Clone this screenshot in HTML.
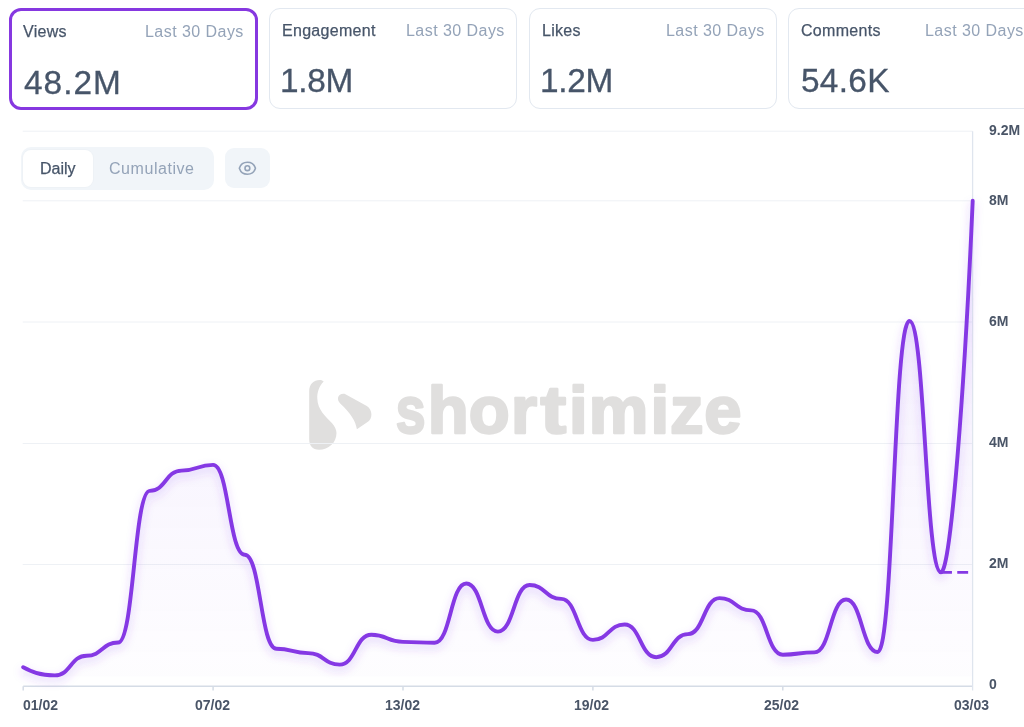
<!DOCTYPE html>
<html><head><meta charset="utf-8">
<style>
html,body{margin:0;padding:0;background:#fff;}
body{width:1024px;height:727px;overflow:hidden;position:relative;font-family:"Liberation Sans",sans-serif;}
.lbl,.sub,.val,.ttxt{will-change:transform;}
.card{position:absolute;top:8px;height:101px;width:248.5px;box-sizing:border-box;border:1px solid #e2e8f0;border-radius:11px;background:#fff;}
.card.sel{border:3px solid #8638e0;}
.lbl{position:absolute;left:12px;top:13.4px;font-size:16px;line-height:18px;color:#475569;letter-spacing:0.3px;-webkit-text-stroke:0.25px #475569;white-space:nowrap;}
.sub{position:absolute;right:11.5px;top:13.4px;font-size:16px;line-height:18px;color:#94a3b8;letter-spacing:0.45px;white-space:nowrap;}
.val{position:absolute;left:12px;top:53.4px;font-size:33.4px;line-height:38px;color:#475569;letter-spacing:0.6px;-webkit-text-stroke:0.3px #475569;white-space:nowrap;}
.toggle{position:absolute;left:21px;top:147px;width:192.5px;height:42.5px;background:#f1f5f9;border-radius:10px;}
.daily{position:absolute;left:1.6px;top:3px;width:70.4px;height:37px;background:#fff;border-radius:8px;box-shadow:0 0 0 1px #eef2f6;}
.ttxt{position:absolute;font-size:16px;top:12.8px;white-space:nowrap;}
.eye{position:absolute;left:224.5px;top:148.4px;width:45.5px;height:40px;background:#f1f5f9;border-radius:9px;}
.ax{position:absolute;font-size:14px;font-weight:bold;color:#4a5567;white-space:nowrap;will-change:transform;}
</style></head><body>
<div class="card sel" style="left:9.2px;top:7.8px;height:101.9px;width:248.8px;border-radius:12px">
  <div class="lbl" style="left:11.2px;top:12.6px">Views</div>
  <div class="sub" style="right:10.8px;top:12.6px">Last 30 Days</div>
  <div class="val" style="left:12.2px;top:53.5px;letter-spacing:1.0px">48.2M</div>
</div>
<div class="card" style="left:268.7px;">
  <div class="lbl">Engagement</div>
  <div class="sub">Last 30 Days</div>
  <div class="val" style="left:10.6px;letter-spacing:-0.3px">1.8M</div>
</div>
<div class="card" style="left:528.5px;">
  <div class="lbl">Likes</div>
  <div class="sub">Last 30 Days</div>
  <div class="val" style="left:10.6px;letter-spacing:-0.3px">1.2M</div>
</div>
<div class="card" style="left:788px;">
  <div class="lbl">Comments</div>
  <div class="sub">Last 30 Days</div>
  <div class="val" style="left:11.8px;letter-spacing:0.3px">54.6K</div>
</div>

<svg width="1024" height="727" style="position:absolute;left:0;top:0">
  <defs>
    <linearGradient id="ag" x1="0" y1="200" x2="0" y2="686" gradientUnits="userSpaceOnUse">
      <stop offset="0.05" stop-color="#7c3aed" stop-opacity="0.095"/>
      <stop offset="0.97" stop-color="#7c3aed" stop-opacity="0.01"/>
    </linearGradient>
    <filter id="sh" x="-5%" y="-20%" width="110%" height="140%">
      <feGaussianBlur in="SourceAlpha" stdDeviation="4.5"/>
      <feOffset dx="0" dy="4" result="b"/>
      <feFlood flood-color="#7c3aed" flood-opacity="0.26"/>
      <feComposite in2="b" operator="in"/>
      <feMerge><feMergeNode/><feMergeNode in="SourceGraphic"/></feMerge>
    </filter>
  </defs>
  <!-- watermark -->
  <g fill="#e0dfde">
    <path d="M323.7,381.4C319.1,386.1 317.0,392.3 317.3,398.5C317.5,409.6 325.9,417.0 332.1,423.2C334.6,426.3 336.5,429.4 336.5,433.1C336.5,443.0 328.4,449.8 319.1,449.8C312.3,449.8 309.2,445.5 309.2,439.3L309.2,391.0C309.2,384.2 313.6,379.9 319.8,379.9C321.6,379.9 322.8,380.5 323.7,381.4ZM344.5,393.8L366.8,405.9C372.4,409.0 373.6,418.9 366.8,422.6L356.9,429.2C355.6,420.7 350.7,413.3 340.2,403.4C335.8,399.1 338.3,392.9 344.5,393.8Z"/>
    <g font-family="Liberation Sans" font-weight="bold" font-size="67" stroke="#e0dfde" stroke-width="2.4" stroke-linejoin="round"><text x="392.00" y="433.4" transform="translate(410.50 0) scale(0.800 1) translate(-410.50 0)">s</text><text x="427.70" y="433.4">h</text><text x="468.80" y="433.4">o</text><text x="510.90" y="433.4">r</text><text x="542.25" y="433.4" transform="translate(553.25 0) scale(1.150 1) translate(-553.25 0)">t</text><text x="569.00" y="433.4">i</text><text x="588.70" y="433.4">m</text><text x="650.40" y="433.4">i</text><text x="669.90" y="433.4">z</text><text x="704.30" y="433.4">e</text></g>
  </g>
  <g stroke="#eef1f5" stroke-width="1">
    <line x1="22.7" y1="131.2" x2="972.6" y2="131.2"/>
    <line x1="22.7" y1="200.8" x2="972.6" y2="200.8"/>
    <line x1="22.7" y1="322" x2="972.6" y2="322"/>
    <line x1="22.7" y1="443.5" x2="972.6" y2="443.5"/>
    <line x1="22.7" y1="564.5" x2="972.6" y2="564.5"/>
  </g>
  <path d="M23.20,667.20C31.11,671.30 39.02,675.40 54.85,675.40C70.67,675.40 70.67,655.70 86.50,655.70C102.33,655.70 102.33,642.50 118.15,642.50C133.98,642.50 133.98,490.90 149.80,490.90C165.62,490.90 165.62,470.60 181.45,470.60C197.27,470.60 197.27,464.90 213.10,464.90C228.93,464.90 228.93,554.80 244.75,554.80C260.57,554.80 260.57,648.80 276.40,648.80C292.23,648.80 292.23,653.10 308.05,653.10C323.88,653.10 323.88,664.60 339.70,664.60C355.52,664.60 355.52,634.70 371.35,634.70C387.18,634.70 387.18,641.90 403.00,641.90C418.82,641.90 418.82,642.80 434.65,642.80C450.48,642.80 450.48,583.50 466.30,583.50C482.12,583.50 482.12,631.60 497.95,631.60C513.77,631.60 513.77,585.00 529.60,585.00C545.42,585.00 545.42,598.90 561.25,598.90C577.08,598.90 577.08,639.90 592.90,639.90C608.72,639.90 608.72,624.50 624.55,624.50C640.38,624.50 640.38,657.20 656.20,657.20C672.03,657.20 672.03,634.10 687.85,634.10C703.67,634.10 703.67,598.10 719.50,598.10C735.33,598.10 735.33,610.40 751.15,610.40C766.97,610.40 766.97,654.70 782.80,654.70C798.62,654.70 798.62,652.40 814.45,652.40C830.28,652.40 830.28,599.50 846.10,599.50C861.92,599.50 861.92,652.00 877.75,652.00C893.58,652.00 893.58,321.00 909.40,321.00C925.22,321.00 925.22,572.30 941.05,572.30C950.75,572.30 964.70,386.70 972.70,200.80L972.7,676.3L23.2,676.3Z" fill="url(#ag)"/>
  <g stroke="#d5dce6" stroke-width="1.5" fill="none">
    <line x1="23.2" y1="686.2" x2="972.6" y2="686.2"/>
    <line x1="23.2" y1="686.3" x2="23.2" y2="690.4"/>
    <line x1="213.1" y1="686.3" x2="213.1" y2="690.4"/>
    <line x1="403" y1="686.3" x2="403" y2="690.4"/>
    <line x1="592.9" y1="686.3" x2="592.9" y2="690.4"/>
    <line x1="782.8" y1="686.3" x2="782.8" y2="690.4"/>
  </g>
  <line x1="972.6" y1="131.2" x2="972.6" y2="690.4" stroke="#dfe5ee" stroke-width="1.3"/>
  <path d="M23.20,667.20C31.11,671.30 39.02,675.40 54.85,675.40C70.67,675.40 70.67,655.70 86.50,655.70C102.33,655.70 102.33,642.50 118.15,642.50C133.98,642.50 133.98,490.90 149.80,490.90C165.62,490.90 165.62,470.60 181.45,470.60C197.27,470.60 197.27,464.90 213.10,464.90C228.93,464.90 228.93,554.80 244.75,554.80C260.57,554.80 260.57,648.80 276.40,648.80C292.23,648.80 292.23,653.10 308.05,653.10C323.88,653.10 323.88,664.60 339.70,664.60C355.52,664.60 355.52,634.70 371.35,634.70C387.18,634.70 387.18,641.90 403.00,641.90C418.82,641.90 418.82,642.80 434.65,642.80C450.48,642.80 450.48,583.50 466.30,583.50C482.12,583.50 482.12,631.60 497.95,631.60C513.77,631.60 513.77,585.00 529.60,585.00C545.42,585.00 545.42,598.90 561.25,598.90C577.08,598.90 577.08,639.90 592.90,639.90C608.72,639.90 608.72,624.50 624.55,624.50C640.38,624.50 640.38,657.20 656.20,657.20C672.03,657.20 672.03,634.10 687.85,634.10C703.67,634.10 703.67,598.10 719.50,598.10C735.33,598.10 735.33,610.40 751.15,610.40C766.97,610.40 766.97,654.70 782.80,654.70C798.62,654.70 798.62,652.40 814.45,652.40C830.28,652.40 830.28,599.50 846.10,599.50C861.92,599.50 861.92,652.00 877.75,652.00C893.58,652.00 893.58,321.00 909.40,321.00C925.22,321.00 925.22,572.30 941.05,572.30C950.75,572.30 964.70,386.70 972.70,200.80" fill="none" stroke="#8539e4" stroke-width="3.9" stroke-linecap="round" stroke-linejoin="round" filter="url(#sh)"/>
  <line x1="941.05" y1="572.3" x2="972.7" y2="572.3" stroke="#8539e4" stroke-width="2.8" stroke-dasharray="10.9 5.3"/>
</svg>

<div class="toggle">
  <div class="daily"></div>
  <div class="ttxt" style="left:18.5px;color:#475569;-webkit-text-stroke:0.25px #475569">Daily</div>
  <div class="ttxt" style="left:88.3px;color:#94a3b8;letter-spacing:0.55px">Cumulative</div>
</div>

<div class="eye"></div>
<svg width="1024" height="727" style="position:absolute;left:0;top:0;pointer-events:none">
  <g transform="translate(237.8,158.6) scale(0.8)" fill="none" stroke="#94a3b8" stroke-width="2" stroke-linecap="round" stroke-linejoin="round">
    <path d="M2.036 12.322a1.012 1.012 0 0 1 0-.639C3.423 7.51 7.36 4.5 12 4.5c4.638 0 8.573 3.007 9.963 7.178.07.207.07.431 0 .639C20.577 16.49 16.64 19.5 12 19.5c-4.638 0-8.573-3.007-9.963-7.178Z"/>
    <path d="M15 12a3 3 0 1 1-6 0 3 3 0 0 1 6 0Z"/>
  </g>
</svg>

<div class="ax" style="left:988.8px;top:122px">9.2M</div>
<div class="ax" style="left:988.8px;top:192px">8M</div>
<div class="ax" style="left:988.8px;top:313px">6M</div>
<div class="ax" style="left:988.8px;top:434px">4M</div>
<div class="ax" style="left:988.8px;top:555px">2M</div>
<div class="ax" style="left:989px;top:676px">0</div>

<div class="ax" style="left:23.2px;top:697px">01/02</div>
<div class="ax" style="left:194.6px;top:697px">07/02</div>
<div class="ax" style="left:384.5px;top:697px">13/02</div>
<div class="ax" style="left:574.4px;top:697px">19/02</div>
<div class="ax" style="left:764.3px;top:697px">25/02</div>
<div class="ax" style="left:954.4px;top:697px">03/03</div>
</body></html>
